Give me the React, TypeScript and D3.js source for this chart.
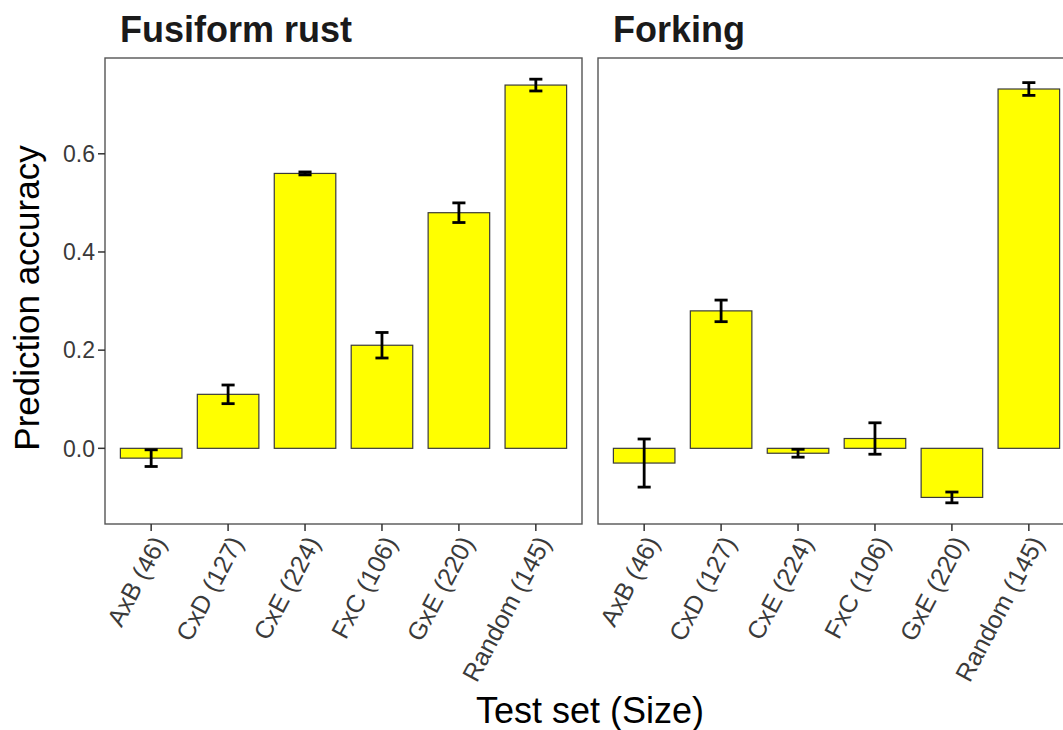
import React from "react";
import * as d3 from "d3";

const categories = ["AxB (46)", "CxD (127)", "CxE (224)", "FxC (106)", "GxE (220)", "Random (145)"];
const panelTitles = ["Fusiform rust", "Forking"];
const fusiformMean = [-0.02, 0.11, 0.56, 0.21, 0.48, 0.74];
const fusiformErr = [0.017, 0.019, 0.003, 0.026, 0.02, 0.012];
const forkingMean = [-0.03, 0.28, -0.01, 0.02, -0.1, 0.732];
const forkingErr = [0.049, 0.022, 0.008, 0.032, 0.011, 0.013];
const yTicks = [0.0, 0.2, 0.4, 0.6];

const W = 1063;
const H = 730;
const FONT = "'Liberation Sans', Arial, Helvetica, sans-serif";
const panelTop = 58;
const panelBottom = 524;
const panelLefts = [105, 598];
const panelWidth = 477;
const LABEL_ANGLE = 62;

export default function App() {
  const series = [
    { mean: fusiformMean, err: fusiformErr },
    { mean: forkingMean, err: forkingErr },
  ];
  const lows = series.flatMap((s) => s.mean.map((m, i) => Math.min(0, m - s.err[i])));
  const highs = series.flatMap((s) => s.mean.map((m, i) => Math.max(0, m + s.err[i])));
  const lo = d3.min(lows) as number;
  const hi = d3.max(highs) as number;
  const pad = (hi - lo) * 0.05;
  const y = d3.scaleLinear().domain([lo - pad, hi + pad]).range([panelBottom, panelTop]);

  return (
    <svg
      width={W}
      height={H}
      style={{ position: "absolute", left: 0, top: 0, background: "#fff" }}
      fontFamily={FONT}
    >
      {series.map((s, p) => {
        const x0 = panelLefts[p];
        const x = d3.scalePoint<string>().domain(categories).range([x0, x0 + panelWidth]).padding(0.6);
        const step = x.step();
        const bw = step * 0.8;
        const cap = step * 0.17;
        return (
          <g key={p}>
            <text x={x0 + 15} y={42} fontSize={36} fontWeight="bold" fill="#1a1a1a">
              {panelTitles[p]}
            </text>
            {categories.map((c, i) => {
              const cx = x(c) as number;
              const v = s.mean[i];
              const top = y(Math.max(0, v));
              const bot = y(Math.min(0, v));
              return (
                <rect
                  key={c}
                  x={cx - bw / 2}
                  y={top}
                  width={bw}
                  height={Math.max(0.5, bot - top)}
                  fill="#FFFF00"
                  stroke="#3a3a3a"
                  strokeWidth={1.2}
                />
              );
            })}
            {categories.map((c, i) => {
              const cx = x(c) as number;
              const u = y(s.mean[i] + s.err[i]);
              const l = y(s.mean[i] - s.err[i]);
              return (
                <g key={c} stroke="#000" strokeWidth={2.8} fill="none">
                  <line x1={cx} x2={cx} y1={u} y2={l} />
                  <line x1={cx - cap / 2} x2={cx + cap / 2} y1={u} y2={u} />
                  <line x1={cx - cap / 2} x2={cx + cap / 2} y1={l} y2={l} />
                </g>
              );
            })}
            <rect
              x={x0}
              y={panelTop}
              width={panelWidth}
              height={panelBottom - panelTop}
              fill="none"
              stroke="#555"
              strokeWidth={1.4}
            />
            {categories.map((c) => {
              const cx = x(c) as number;
              return (
                <g key={c}>
                  <line x1={cx} x2={cx} y1={panelBottom} y2={panelBottom + 7} stroke="#333" strokeWidth={1.5} />
                  <g transform={`translate(${cx},${panelBottom + 10}) rotate(${-LABEL_ANGLE})`}>
                    <text x={0} y={0} dy="0.72em" textAnchor="end" fontSize={25} fill="#3a3a3a">
                      {c}
                    </text>
                  </g>
                </g>
              );
            })}
            {p === 0 &&
              yTicks.map((t) => (
                <g key={t}>
                  <line x1={x0 - 7} x2={x0} y1={y(t)} y2={y(t)} stroke="#333" strokeWidth={1.5} />
                  <text x={x0 - 10} y={y(t)} dy="0.36em" textAnchor="end" fontSize={23} fill="#3a3a3a">
                    {d3.format(".1f")(t)}
                  </text>
                </g>
              ))}
          </g>
        );
      })}
      <text x={590} y={723} textAnchor="middle" fontSize={36} fill="#000">
        Test set (Size)
      </text>
      <text
        transform={`translate(39,${(panelTop + panelBottom) / 2 + 7}) rotate(-90)`}
        textAnchor="middle"
        fontSize={35}
        fill="#000"
      >
        Prediction accuracy
      </text>
    </svg>
  );
}
